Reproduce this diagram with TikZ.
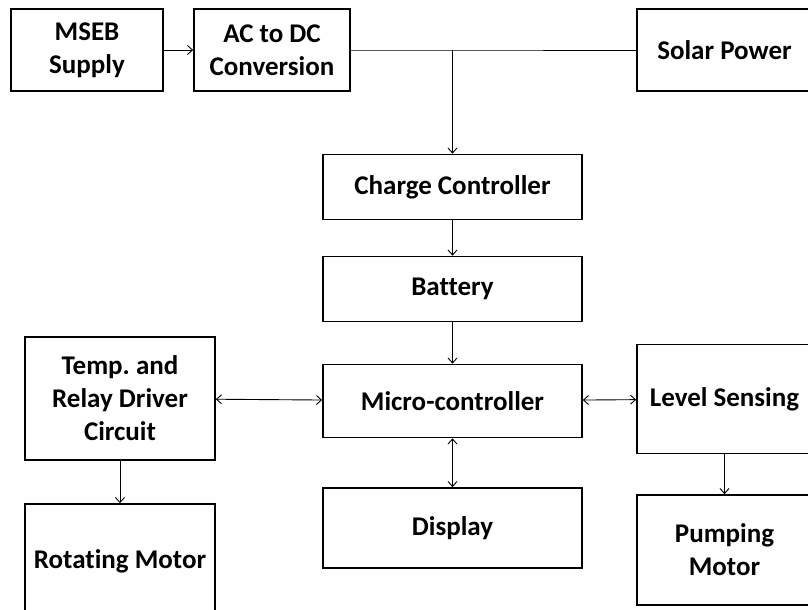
\documentclass[tikz,border=0pt]{standalone}
\usepackage{fontspec}
\setmainfont{Carlito}[Ligatures=CommonOff]
\usetikzlibrary{arrows.meta,positioning}
\tikzset{blk/.style={draw,line width=1.7pt,align=center,inner sep=0pt,font=\bfseries\fontsize{27}{33}\selectfont},
  con/.style={line width=0.9pt,-{Straight Barb[length=5pt,width=9pt]}},
  dcon/.style={line width=0.9pt,{Straight Barb[length=5pt,width=9pt]}-{Straight Barb[length=5pt,width=9pt]}}}
\begin{document}
\begin{tikzpicture}[x=1pt,y=-1pt]
\clip (0,0) rectangle (808,610);
\node[blk,minimum width=152,minimum height=82] (mseb) at (87,50) {MSEB\\Supply};
\node[blk,minimum width=156,minimum height=82] (acdc) at (272,50) {AC to DC\\Conversion};
\node[blk,minimum width=175,minimum height=82] (solar) at (724.5,50) {Solar Power};
\node[blk,minimum width=259,minimum height=65] (charge) at (452.5,187) {Charge Controller};
\node[blk,minimum width=259,minimum height=65] (battery) at (452.5,289) {Battery};
\node[blk,minimum width=259,minimum height=73] (micro) at (452.5,401) {Micro-controller};
\node[blk,minimum width=259,minimum height=80] (display) at (452.5,528) {Display};
\node[blk,minimum width=190,minimum height=123] (temp) at (120,398.5) {Temp.\ and\\Relay Driver\\Circuit};
\node[blk,minimum width=190,minimum height=114] (rotating) at (120,561) {Rotating Motor};
\node[blk,minimum width=175,minimum height=109] (level) at (724.5,399) {Level Sensing};
\node[blk,minimum width=175,minimum height=110] (pumping) at (724.5,550) {Pumping\\Motor};
\coordinate (junc) at (charge.north |- acdc.east);
\draw[con] (mseb) -- (acdc);
\draw[line width=0.9pt] (acdc.east) -- (junc) -- (solar.west);
\draw[con] (junc) -- (charge);
\draw[con] (charge) -- (battery);
\draw[con] (battery) -- (micro);
\draw[dcon] (temp) -- (micro);
\draw[dcon] (micro) -- (level);
\draw[dcon] (micro) -- (display);
\draw[con] (temp) -- (rotating);
\draw[con] (level) -- (pumping);
\end{tikzpicture}
\end{document}
